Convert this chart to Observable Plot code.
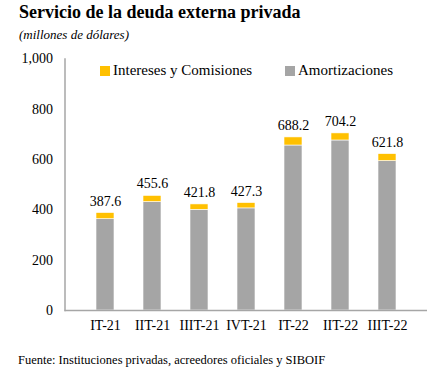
<!DOCTYPE html>
<html><head><meta charset="utf-8">
<script src="https://cdn.jsdelivr.net/npm/d3@7"></script>
<script src="https://cdn.jsdelivr.net/npm/@observablehq/plot@0.6"></script>
<style>
body{margin:0;background:#fff;font-family:'Liberation Serif','DejaVu Serif',serif;color:#000;}
#wrap{position:relative;width:442px;height:380px;overflow:hidden;}
.abs{position:absolute;white-space:nowrap;}
#title{left:19px;top:2px;font-size:18px;font-weight:bold;}
#sub{left:19px;top:27px;font-size:13px;font-style:italic;}
#cap{left:18px;top:353px;font-size:12.5px;}
#chart{position:absolute;left:0;top:45px;}
.leg{top:62px;font-size:15px;display:flex;align-items:center;}
.sw{width:10px;height:10px;display:inline-block;margin-right:3px;}
</style></head>
<body><div id="wrap">
<div id="title" class="abs">Servicio de la deuda externa privada</div>
<div id="sub" class="abs">(millones de dólares)</div>
<div id="chart"></div>
<div class="abs leg" style="left:100px"><span class="sw" style="background:#FFC000"></span>Intereses y Comisiones</div>
<div class="abs leg" style="left:285px"><span class="sw" style="background:#A5A5A5"></span>Amortizaciones</div>
<div id="cap" class="abs">Fuente: Instituciones privadas, acreedores oficiales y SIBOIF</div>
</div>
<script>
const categories = ["IT-21","IIT-21","IIIT-21","IVT-21","IT-22","IIT-22","IIIT-22"];
const totals = [387.6, 455.6, 421.8, 427.3, 688.2, 704.2, 621.8];
const amortizaciones = [363, 431, 400, 406, 656, 676, 594];
const yTicks = [0, 200, 400, 600, 800, 1000];

const rows = [];
categories.forEach((c, i) => {
  rows.push({cat: c, serie: "Amortizaciones", v: amortizaciones[i]});
  rows.push({cat: c, serie: "Intereses y Comisiones", v: +(totals[i] - amortizaciones[i]).toFixed(1)});
});
const totRows = categories.map((c, i) => ({cat: c, total: totals[i]}));

const chart = Plot.plot({
  width: 442, height: 290,
  marginLeft: 64.5, marginRight: 15, marginTop: 13.5, marginBottom: 25,
  style: {fontFamily: "'Liberation Serif', 'DejaVu Serif', serif", fontSize: "14px", color: "#000"},
  x: {domain: categories, padding: 0.61, label: null},
  y: {domain: [0, 1000], label: null},
  color: {domain: ["Amortizaciones", "Intereses y Comisiones"], range: ["#A5A5A5", "#FFC000"]},
  marks: [
    Plot.axisX({tickSize: 0, tickPadding: 10, fontSize: 14, label: null, fill: "#000"}),
    Plot.axisY({ticks: yTicks, tickFormat: d3.format(","), tickSize: 0, tickPadding: 12, fontSize: 14, label: null, fill: "#000"}),
    Plot.barY(rows, {x: "cat", y: "v", fill: "serie", stroke: "#fff", strokeWidth: 0.6}),
    Plot.frame({anchor: "left", stroke: "#A6A6A6", strokeWidth: 1.5}),
    Plot.ruleY([0], {stroke: "#A6A6A6", strokeWidth: 1.5}),
    Plot.text(totRows, {x: "cat", y: "total", text: d => d.total.toFixed(1), dy: -12, fontSize: 14, fill: "#000"})
  ]
});
document.getElementById("chart").appendChild(chart);
</script>
</body></html>
